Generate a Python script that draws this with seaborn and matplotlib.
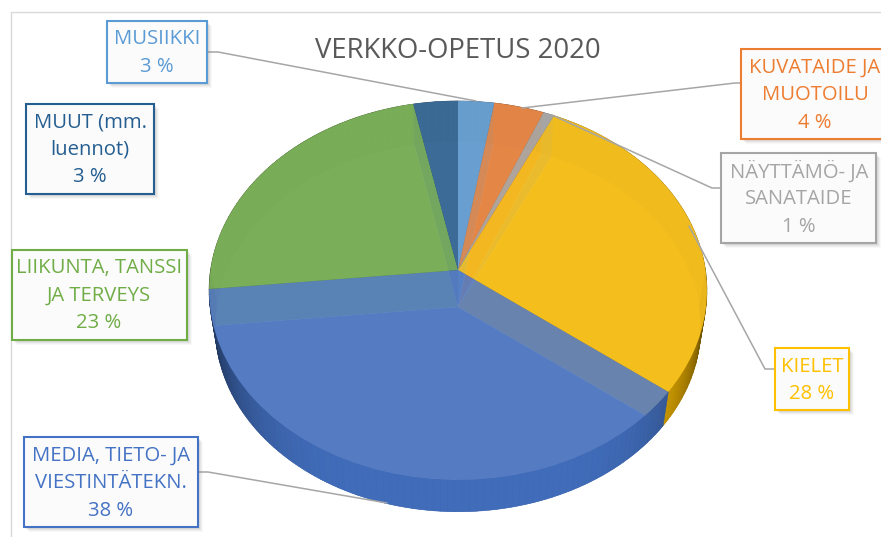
import numpy as np
import matplotlib
matplotlib.use("Agg")
import matplotlib.pyplot as plt
from matplotlib.colors import to_rgb
from matplotlib.patches import Rectangle
from matplotlib.transforms import Transform
import seaborn as sns

labels = ["MUSIIKKI", "KUVATAIDE JA\nMUOTOILU", "NÄYTTÄMÖ- JA\nSANATAIDE", "KIELET",
          "MEDIA, TIETO- JA\nVIESTINTÄTEKN.", "LIIKUNTA, TANSSI\nJA TERVEYS", "MUUT (mm.\nluennot)"]
values = [2.6, 3.6, 0.8, 28.4, 38.0, 23.4, 3.2]
colors = ["#5B9BD5", "#ED7D31", "#A5A5A5", "#FFC000", "#4472C4", "#70AD47", "#255E91"]
title = "VERKKO-OPETUS 2020"

# label boxes in pixels: left, top, right, bottom
boxes = [(107, 21, 207, 83), (741, 49, 890, 139), (721, 153, 876, 243), (775, 348, 849, 410),
         (24, 437, 198, 527), (12, 250, 187, 340), (26, 104, 154, 194)]
text_x = [157, 815, 799, 812, 111, 99, 90]
leaders = [[(207, 52), (218, 52), (476, 101)],
           [(741, 83), (735, 83), (522, 108)],
           [(721, 188), (712, 188), (552, 115)],
           [(775, 369), (765, 369), (689, 226)],
           [(198, 472), (208, 472), (387, 503)]]

sns.set_theme(style="white")
plt.rcParams["font.family"] = ["Open Sans", "DejaVu Sans"]


class Tilt(Transform):
    # perspective view of the unit pie, result in image pixels
    input_dims = 2
    output_dims = 2

    def __init__(self, drop=0, scale=1.0):
        super().__init__()
        self.drop = drop
        self.scale = scale

    def transform_non_affine(self, values):
        xy = np.asarray(values, dtype=float)
        w = 1 + 0.108 * xy[:, 1]
        px = 458 + self.scale * 247.5 * xy[:, 0] / w
        py = 270 + self.drop - self.scale * 187.3 * xy[:, 1] / w
        return np.column_stack([px, py])


def shade(c, f):
    rgb = np.array(to_rgb(c))
    return tuple(np.clip(rgb * f, 0, 1)) if f <= 1 else tuple(rgb + (1 - rgb) * (f - 1))


fig = plt.figure(figsize=(8.81, 5.37), dpi=100)
ax = fig.add_axes([0, 0, 1, 1])

top_tilt = Tilt()
low_tilt = Tilt(drop=37, scale=0.975)

low, _ = ax.pie(values, colors=[shade(c, 0.7) for c in colors], startangle=90, counterclock=False,
                wedgeprops={"linewidth": 0})
for w in low:
    w.set_transform(low_tilt + ax.transData)
    w.set_zorder(1)

# outer wall between the two rims
for w, c in zip(low, colors):
    steps = np.linspace(w.theta1, w.theta2, max(3, int((w.theta2 - w.theta1) / 1.5)))
    for a, b in zip(steps[:-1], steps[1:]):
        unit = np.column_stack([np.cos(np.radians([a, b])), np.sin(np.radians([a, b]))])
        rim = top_tilt.transform(unit)
        base = low_tilt.transform(unit)[::-1]
        front = np.sin(np.radians((a + b) / 2)) < 0
        side = abs(np.cos(np.radians((a + b) / 2)))
        f = (0.95 - 0.55 * side ** 5) if front else 0.6
        ax.fill(*np.vstack([rim, base]).T, color=shade(c, f), lw=0.4, zorder=2)

top, _ = ax.pie(values, colors=[shade(c, 1.13) for c in colors], startangle=90, counterclock=False,
                wedgeprops={"linewidth": 0})
for w in top:
    w.set_transform(top_tilt + ax.transData)
    w.set_alpha(0.86)
    w.set_zorder(3)

ax.set_aspect("auto")
ax.set_xlim(0, 881)
ax.set_ylim(537, 0)
ax.set_axis_off()

# chart frame
ax.plot([11, 11, 881], [537, 12, 12], color="#D9D9D9", lw=1.0, zorder=0)

for pts in leaders:
    ax.plot(*np.array(pts).T, color="#A6A6A6", lw=1.1, zorder=4)

ax.text(458, 51, title, ha="center", va="center", fontsize=19.8, color="#595959", zorder=6)

for name, val, c, (x0, y0, x1, y1), tx in zip(labels, values, colors, boxes, text_x):
    # soft shadow
    for off, al in [(5, 0.05), (4, 0.07), (3, 0.09), (2, 0.11)]:
        ax.add_patch(Rectangle((x0 + off, y0 + off), x1 - x0, y1 - y0, fc="#7F7F7F", ec="none", alpha=al, zorder=5))
    ax.add_patch(Rectangle((x0, y0), x1 - x0, y1 - y0, fc="#FBFBFB", ec=c, lw=1.5, zorder=6))
    lines = name.split("\n") + [f"{round(val)} %"]
    for i, line in enumerate(lines):
        ax.text(tx, y0 + 18.5 + 27.5 * i, line, ha="center", va="center", fontsize=14.6, color=c, zorder=7)

fig.savefig("out.png", dpi=100)
